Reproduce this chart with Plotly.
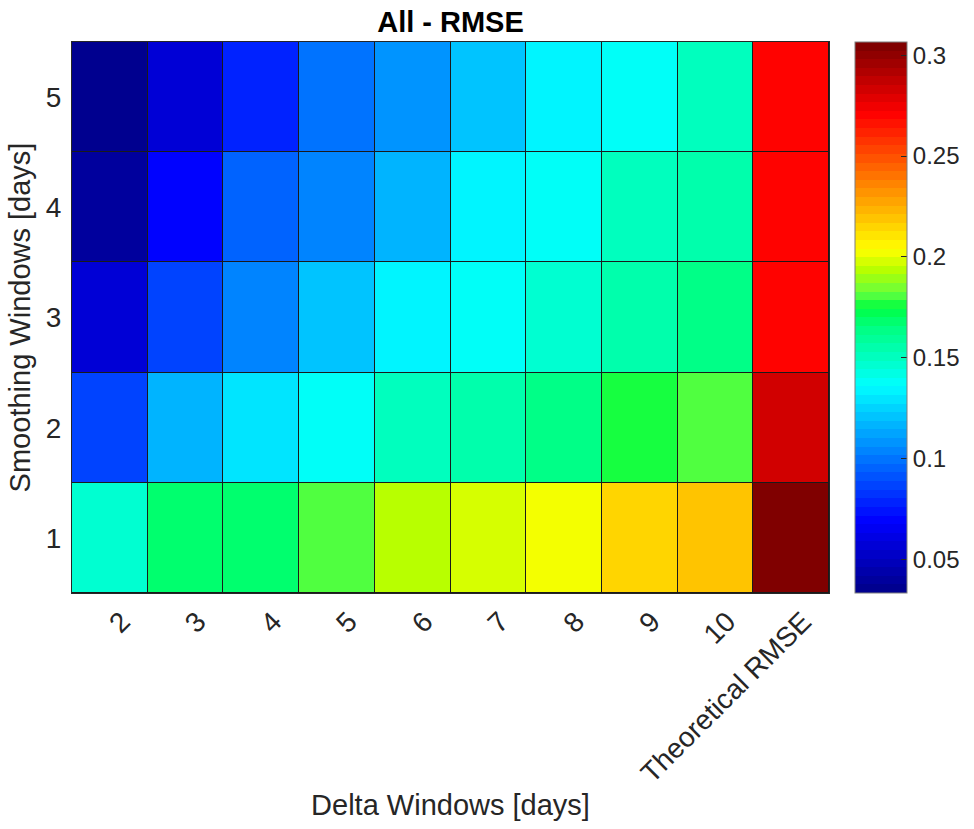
import plotly.graph_objects as go

# ---- data ----
delta_windows = ["2", "3", "4", "5", "6", "7", "8", "9", "10", "Theoretical RMSE"]
smoothing_windows = [1, 2, 3, 4, 5]

rmse_s1 = [0.147, 0.166, 0.167, 0.182, 0.194, 0.197, 0.203, 0.2135, 0.218, 0.3065]
rmse_s2 = [0.086, 0.118, 0.128, 0.136, 0.149, 0.156, 0.165, 0.176, 0.182, 0.281]
rmse_s3 = [0.058, 0.086, 0.106, 0.119, 0.132, 0.138, 0.146, 0.154, 0.162, 0.272]
rmse_s4 = [0.042, 0.068, 0.0935, 0.106, 0.118, 0.132, 0.139, 0.149, 0.153, 0.271]
rmse_s5 = [0.0335, 0.0585, 0.0765, 0.098, 0.109, 0.122, 0.132, 0.140, 0.149, 0.272]

colorbar_ticks = [0.05, 0.1, 0.15, 0.2, 0.25, 0.3]
colorbar_ticklabels = ["0.05", "0.1", "0.15", "0.2", "0.25", "0.3"]

z = [rmse_s1, rmse_s2, rmse_s3, rmse_s4, rmse_s5]

# ---- jet-like colormap (as it appears in the reference), 64 discrete bands ----
cmap_stops = [
    (0.000, (0, 0, 143)),
    (0.125, (0, 0, 255)),
    (0.375, (0, 255, 255)),
    (0.420, (0, 255, 200)),
    (0.482, (0, 255, 128)),
    (0.518, (0, 255, 64)),
    (0.545, (100, 255, 64)),
    (0.585, (180, 255, 0)),
    (0.625, (255, 255, 0)),
    (0.875, (255, 0, 0)),
    (1.000, (128, 0, 0)),
]


def cmap_at(t):
    for (t0, c0), (t1, c1) in zip(cmap_stops[:-1], cmap_stops[1:]):
        if t0 <= t <= t1:
            f = (t - t0) / (t1 - t0)
            return tuple(round(a + (b - a) * f) for a, b in zip(c0, c1))
    return cmap_stops[-1][1]


N = 64
colorscale = []
for i in range(N):
    r, g, b = cmap_at(i / (N - 1))
    col = f"rgb({r},{g},{b})"
    colorscale.append([i / N, col])
    colorscale.append([(i + 1) / N, col])

all_vals = [v for row in z for v in row]
zmin, zmax = min(all_vals), max(all_vals)

FONT = "Liberation Sans, Arial, Helvetica, sans-serif"
GREY = "#262626"

plot_l, plot_r, plot_t, plot_b = 72, 829, 42, 593
W, H = 974, 829

fig = go.Figure(
    go.Heatmap(
        x=delta_windows,
        y=smoothing_windows,
        z=z,
        zmin=zmin,
        zmax=zmax,
        colorscale=colorscale,
        xgap=1,
        ygap=1,
        hoverongaps=False,
        colorbar=dict(
            thickness=52,
            thicknessmode="pixels",
            len=1,
            lenmode="fraction",
            x=(855 - plot_l) / (plot_r - plot_l),
            xanchor="left",
            y=0.5,
            yanchor="middle",
            xpad=0,
            ypad=0,
            outlinewidth=1,
            outlinecolor="#7f7f7f",
            tickvals=colorbar_ticks,
            ticktext=colorbar_ticklabels,
            ticks="inside",
            ticklen=6,
            tickcolor=GREY,
            tickfont=dict(family=FONT, size=24, color=GREY),
        ),
    )
)

fig.update_layout(
    width=W,
    height=H,
    margin=dict(l=plot_l, r=W - plot_r, t=plot_t, b=H - plot_b, autoexpand=False),
    paper_bgcolor="white",
    plot_bgcolor="#1a1a1a",
    title=dict(
        text="<b>All - RMSE</b>",
        x=0.5,
        xref="paper",
        xanchor="center",
        y=1 - 22 / H,
        yref="container",
        yanchor="middle",
        font=dict(family=FONT, size=29, color="black"),
    ),
    xaxis=dict(
        type="category",
        tickangle=-45,
        tickfont=dict(family=FONT, size=28, color=GREY),
        ticklabelshift=12,
        showline=True,
        linecolor=GREY,
        linewidth=1,
        mirror=True,
        ticks="",
        showgrid=False,
        zeroline=False,
        title=dict(
            text="Delta Windows [days]",
            font=dict(family=FONT, size=29, color=GREY),
            standoff=7,
        ),
        automargin=False,
    ),
    yaxis=dict(
        range=[0.5, 5.5],
        tickvals=smoothing_windows,
        ticktext=[str(v) for v in smoothing_windows],
        tickfont=dict(family=FONT, size=28, color=GREY),
        showline=True,
        linecolor=GREY,
        linewidth=1,
        mirror=True,
        ticks="",
        ticklabelstandoff=4,
        showgrid=False,
        zeroline=False,
        title=dict(
            text="Smoothing Windows [days]",
            font=dict(family=FONT, size=29, color=GREY),
            standoff=6,
        ),
        automargin=False,
    ),
)

fig.write_html(
    "out.html",
    config={"displayModeBar": False},
    post_script="document.body.style.margin='0';document.body.style.overflow='hidden';",
)
